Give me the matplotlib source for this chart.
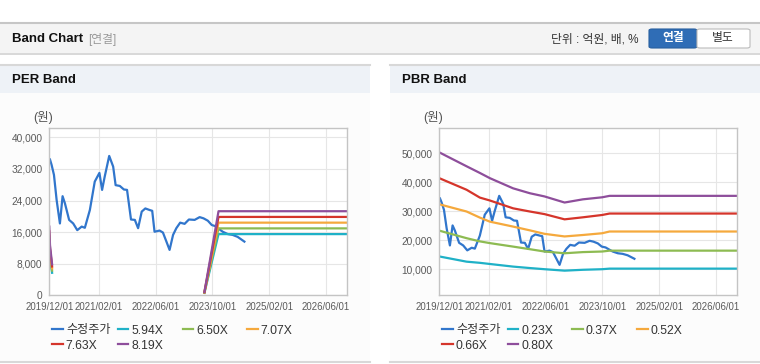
import numpy as np
import pandas as pd
import matplotlib
matplotlib.use('Agg')
import matplotlib.pyplot as plt
from matplotlib.patches import Rectangle, FancyBboxPatch
from matplotlib.lines import Line2D

plt.rcParams['font.family'] = ['Liberation Sans', 'Noto Sans CJK KR']

# ---- data ----
price_dates = ['2019-12-07', '2019-12-21', '2020-01-10', '2020-02-02', '2020-03-01', '2020-03-24',
               '2020-04-13', '2020-05-19', '2020-06-23', '2020-07-28', '2020-09-04', '2020-10-01',
               '2020-11-13', '2020-12-25', '2021-02-03', '2021-02-26', '2021-03-20', '2021-04-28',
               '2021-06-01', '2021-06-22', '2021-07-28', '2021-09-01', '2021-09-28', '2021-11-01',
               '2021-12-04', '2022-01-01', '2022-02-01', '2022-03-04', '2022-04-10', '2022-05-02',
               '2022-05-22', '2022-07-04', '2022-08-02', '2022-09-01', '2022-09-28', '2022-10-28',
               '2022-11-25', '2022-12-28', '2023-02-04', '2023-03-13', '2023-05-01', '2023-06-13',
               '2023-07-16', '2023-08-22', '2023-09-25', '2023-10-28', '2023-12-01', '2023-12-28',
               '2024-02-10', '2024-03-22', '2024-05-04', '2024-07-01']
price = [34400, 33000, 30500, 24100, 18200, 25100, 23300, 19100, 18200, 16500, 17400, 17100,
         21600, 28800, 31000, 26700, 30000, 35300, 32600, 27900, 27700, 26800, 26700, 19200,
         19100, 17000, 21200, 22000, 21600, 21400, 16100, 16400, 15900, 13600, 11500, 15300,
         17000, 18400, 18100, 19200, 19100, 19800, 19500, 18900, 17800, 17500, 16700, 16100,
         15500, 15300, 14800, 13600]

per_dates = ['2019-12-01', '2019-12-07', '2019-12-25', '2020-01-01', '2023-07-24', '2023-11-22', '2026-12-01']
per_labels = ['5.94X', '6.50X', '7.07X', '7.63X', '8.19X']
per_594 = [12600, 9200, 5700, np.nan, 600, 15500, 15500]
per_650 = [13800, 10100, 6250, np.nan, 660, 16950, 16950]
per_707 = [15000, 11000, 6800, np.nan, 720, 18400, 18400]
per_763 = [16200, 11800, 7300, np.nan, 770, 19850, 19850]
per_819 = [17400, 12700, 7850, np.nan, 830, 21300, 21300]

pbr_dates = ['2019-12-01', '2020-07-22', '2020-11-13', '2021-02-07', '2021-08-25', '2022-01-16',
             '2022-05-22', '2022-11-10', '2023-04-16', '2023-09-28', '2023-12-01', '2026-12-01']
pbr_labels = ['0.23X', '0.37X', '0.52X', '0.66X', '0.80X']
pbr_023 = [14400, 12600, 12200, 11800, 10900, 10400, 10000, 9500, 9800, 10000, 10200, 10200]
pbr_037 = [23300, 20700, 19600, 19000, 17800, 16900, 16100, 15500, 15900, 16100, 16400, 16400]
pbr_052 = [32400, 29900, 27800, 26400, 24700, 23400, 22200, 21300, 21800, 22400, 23000, 23000]
pbr_066 = [41400, 37400, 34700, 33700, 31000, 29900, 29000, 27200, 27900, 28700, 29200, 29200]
pbr_080 = [50300, 45500, 43200, 41400, 37900, 36200, 35100, 33000, 34100, 34800, 35300, 35300]

x_ticks = ['2019-12-01', '2021-02-01', '2022-06-01', '2023-10-01', '2025-02-01', '2026-06-01']
x_range = ['2019-12-01', '2026-12-01']

price_color = '#3176cc'
band_colors = ['#1fb1c7', '#8dbb52', '#f5a93d', '#d5352b', '#8e4e9b']

W, H = 760, 364
def fx(x):
    return x / W
def fy(y):
    return 1 - y / H

fig = plt.figure(figsize=(7.6, 3.64), dpi=100)

def rect(x0, y0, x1, y1, fc, ec='none', lw=0):
    fig.patches.append(Rectangle((fx(x0), fy(y1)), (x1 - x0) / W, (y1 - y0) / H,
                                 transform=fig.transFigure, fc=fc, ec=ec, lw=lw, zorder=-2))

def hline(x0, x1, y, color, lw=1.0):
    fig.add_artist(Line2D([fx(x0), fx(x1)], [fy(y), fy(y)], transform=fig.transFigure,
                          color=color, lw=lw, zorder=-1))

# top header bar
rect(0, 22, 760, 53, '#f4f4f4')
hline(0, 760, 22.5, '#c6c6c6', 1.5)
hline(0, 760, 53.5, '#d2d2d2', 1.2)
fig.text(fx(12), fy(39), 'Band Chart', fontsize=9.5, fontweight='bold', color='#111111', va='center')
fig.text(fx(88), fy(39), '[연결]', fontsize=8.5, color='#999999', va='center')
fig.text(fx(551), fy(39), '단위 : 억원, 배, %', fontsize=8.5, color='#333333', va='center')
fig.patches.append(FancyBboxPatch((fx(649), fy(48)), 48 / W, 19 / H, boxstyle='round,pad=0,rounding_size=0.004',
                                  transform=fig.transFigure, fc='#2f6db6', ec='#285f9f', lw=0.8, zorder=1))
fig.patches.append(FancyBboxPatch((fx(697), fy(48)), 53 / W, 19 / H, boxstyle='round,pad=0,rounding_size=0.004',
                                  transform=fig.transFigure, fc='#ffffff', ec='#bcbcbc', lw=0.8, zorder=1))
fig.text(fx(673), fy(38.5), '연결', fontsize=8.5, fontweight='bold', color='white', ha='center', va='center')
fig.text(fx(723), fy(38.5), '별도', fontsize=8.5, color='#333333', ha='center', va='center')

# panels
for x0, x1, title in [(0, 370, 'PER Band'), (390, 760, 'PBR Band')]:
    rect(x0, 64, x1, 93, '#eef2f7')
    rect(x0, 93, x1, 361, '#fcfcfc')
    hline(x0, x1, 64.5, '#d8d8d8', 1.5)
    hline(x0, x1, 361.5, '#d8d8d8', 1.5)
    fig.text(fx(x0 + 12), fy(80), title, fontsize=9.5, fontweight='bold', color='#111111', va='center')

def setup(ax, ylim, yticks, unit_x):
    ax.set_zorder(2)
    ax.set_xlim(pd.to_datetime(x_range))
    ax.set_ylim(ylim)
    ax.set_xticks(pd.to_datetime(x_ticks))
    ax.set_xticklabels([t.replace('-', '/') for t in x_ticks])
    ax.set_yticks(yticks)
    ax.set_yticklabels(['{:,}'.format(v) for v in yticks])
    ax.tick_params(length=0, labelcolor='#5a5a5a', pad=5)
    ax.tick_params(axis='x', labelsize=6.9)
    ax.tick_params(axis='y', labelsize=7.3)
    ax.grid(True, color='#e6e6e6', lw=0.8)
    ax.set_axisbelow(True)
    for s in ax.spines.values():
        s.set_color('#c4c4c4')
        s.set_linewidth(1.0)
    ax.set_facecolor('white')
    fig.text(fx(unit_x), fy(118), '(원)', fontsize=9, color='#555555', va='center')

def legend_cols(handles, labels, xs):
    # row-major layout: 4 columns, 2 rows
    cols = [[0, 4], [1, 5], [2], [3]]
    for c, x in zip(cols, xs):
        fig.legend([handles[i] for i in c], [labels[i] for i in c], loc='upper left',
                   bbox_to_anchor=(fx(x), fy(324.5)), frameon=False, fontsize=8.7,
                   handlelength=0.9, handletextpad=0.25, borderpad=0, borderaxespad=0,
                   labelspacing=0.25, labelcolor='#333333')

# PER chart
ax1 = fig.add_axes([fx(49.3), fy(295.3), 298 / W, 167 / H])
setup(ax1, (0, 42300), [0, 8000, 16000, 24000, 32000, 40000], 33)
h = [ax1.plot(pd.to_datetime(price_dates), price, color=price_color, lw=1.6)[0]]
for vals, col in zip([per_594, per_650, per_707, per_763, per_819], band_colors):
    h.append(ax1.plot(pd.to_datetime(per_dates), vals, color=col, lw=1.6)[0])
legend_cols(h, ['수정주가'] + per_labels, [52, 117.5, 182.5, 247])

# PBR chart
ax2 = fig.add_axes([fx(439.3), fy(295.3), 298 / W, 167 / H])
setup(ax2, (1000, 58600), [10000, 20000, 30000, 40000, 50000], 423)
h = [ax2.plot(pd.to_datetime(price_dates), price, color=price_color, lw=1.6)[0]]
for vals, col in zip([pbr_023, pbr_037, pbr_052, pbr_066, pbr_080], band_colors):
    h.append(ax2.plot(pd.to_datetime(pbr_dates), vals, color=col, lw=1.6)[0])
legend_cols(h, ['수정주가'] + pbr_labels, [442, 507.5, 572, 637])

fig.savefig('out.png', dpi=100)
